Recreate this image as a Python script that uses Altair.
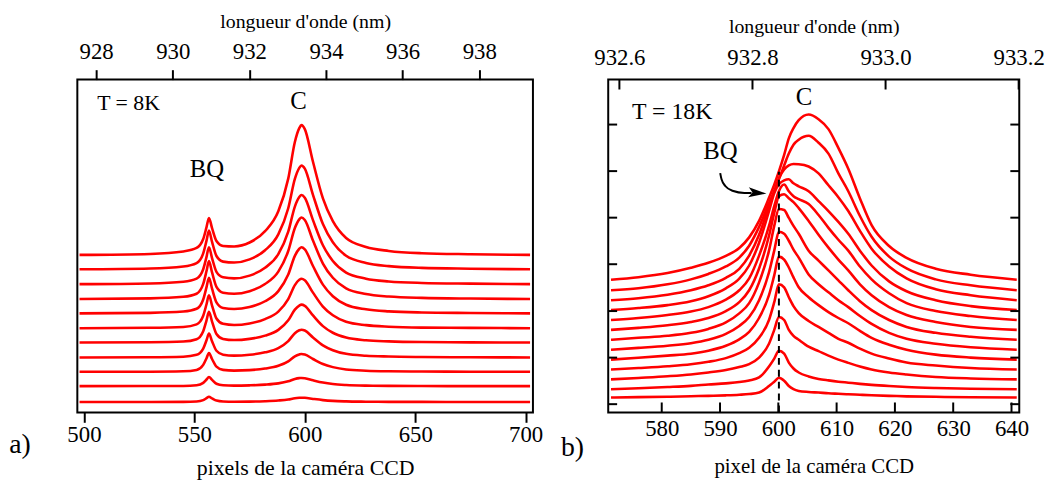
import altair as alt
import pandas as pd

FONT = "Liberation Serif"
RED = "#ff0000"

# ---------------- panel a (T = 8K) ----------------
A_PIX = [498, 530, 545, 551, 554, 555.5, 556.6, 558, 560, 563, 568, 575, 582, 588,
         592.5, 595.5, 597.5, 598.5, 600, 603.7, 608.2, 612.7, 618.7, 627.7, 638, 653, 675, 702]
A_OFFSETS = [159, 144.5, 129.5, 114.5, 100, 85, 70.5, 55.5, 41, 26.5, 10.5]
A01 = [0, 1, 3.5, 7, 16, 28, 37.3, 27, 14, 9, 8.5, 12.5, 24, 44, 77, 114, 128, 131, 127, 94, 57, 34, 17, 8, 4, 1.7, 0.7, 0]
A02 = [0, 0.8, 2.8, 6.2, 16, 28.9, 39, 27.6, 13.4, 7.7, 6.8, 10, 19.2, 35.2, 61.6, 91.2, 102.4, 104.8, 101.6, 75.2, 45.6, 27.2, 13.6, 6.4, 3.2, 1.4, 0.6, 0]
A03 = [0, 0.7, 2.4, 5.5, 15, 27.5, 37.3, 26.3, 12.4, 6.9, 5.8, 8.6, 16.5, 30.2, 52.9, 78.3, 87.9, 90, 87.2, 64.6, 39.2, 23.4, 11.7, 5.5, 2.7, 1.2, 0.5, 0]
A04 = [0, 0.6, 2.2, 5.3, 15.2, 28.2, 38.3, 26.8, 12.3, 6.4, 5.3, 7.9, 15.1, 27.6, 48.4, 71.6, 80.4, 82.3, 79.8, 59, 35.8, 21.4, 10.7, 5, 2.5, 1.1, 0.4, 0]
A05 = [0, 0.5, 1.8, 4.6, 14, 26.4, 36, 24.9, 11.1, 5.4, 4.3, 6.4, 12.2, 22.4, 39.2, 58, 65.2, 66.7, 64.6, 47.8, 29, 17.3, 8.7, 4.1, 2, 0.9, 0.4, 0]
A06 = [0, 0.4, 1.3, 3.9, 12.6, 24.2, 33.3, 22.9, 9.8, 4.4, 3.2, 4.8, 9.2, 16.8, 29.4, 43.5, 48.9, 50, 48.5, 35.9, 21.8, 13, 6.5, 3.1, 1.5, 0.6, 0.3, 0]
A07 = [0, 0.3, 1, 3.4, 11.5, 22.5, 31, 21.2, 8.7, 3.7, 2.5, 3.7, 7, 12.8, 22.5, 33.3, 37.4, 38.3, 37.1, 27.4, 16.6, 9.9, 5, 2.3, 1.2, 0.5, 0.2, 0]
A08 = [0, 0.2, 0.7, 2.6, 8.9, 17.4, 24, 16.4, 6.7, 2.7, 1.8, 2.7, 5.1, 9.4, 16.5, 24.4, 27.4, 28, 27.2, 20.1, 12.2, 7.3, 3.6, 1.7, 0.9, 0.4, 0.1, 0]
A09 = [0, 0.1, 0.5, 1.9, 7, 13.7, 19, 12.9, 5.2, 1.9, 1.2, 1.7, 3.3, 6, 10.5, 15.6, 17.5, 18, 17.4, 12.9, 7.8, 4.7, 2.3, 1.1, 0.5, 0.2, 0.1, 0]
A10 = [0, 0.1, 0.2, 0.9, 3.3, 6.7, 9.3, 6.3, 2.4, 0.9, 0.5, 0.8, 1.5, 2.8, 4.9, 7.2, 8.1, 8.3, 8, 5.9, 3.6, 2.1, 1.1, 0.5, 0.3, 0.1, 0, 0]
A11 = [0, 0, 0.1, 0.5, 1.9, 3.8, 5.3, 3.6, 1.4, 0.5, 0.3, 0.4, 0.8, 1.5, 2.5, 3.8, 4.2, 4.3, 4.2, 3.1, 1.9, 1.1, 0.6, 0.3, 0.1, 0.1, 0, 0]
A_CURVES = [A01, A02, A03, A04, A05, A06, A07, A08, A09, A10, A11]
A_BOTTOM_TICKS = [500, 550, 600, 650, 700]
A_TOP_TICKS = [928, 930, 932, 934, 936, 938]

# ---------------- panel b (T = 18K) ----------------
B_PIX = [571.3, 576, 581, 585, 588, 591, 593.3, 595, 596.7, 598.4, 599.3, 600.1, 601, 601.8,
         602.6, 603.5, 605.2, 606.9, 608.6, 610.3, 612, 614, 616, 619, 622, 627, 633, 640.9]
B_OFFSETS = [134, 123.3, 113.3, 103.3, 93.3, 83.3, 73.3, 63.3, 53.3, 43.3, 33.3, 23.3, 15]
B01 = [0, 2.5, 6.7, 12, 17, 24, 32, 42.7, 59.3, 82.7, 96, 109.3, 126, 142.7, 153, 161, 166.7, 162, 152, 133, 112, 82, 55, 34, 22, 11, 5, 0]
B02 = [0, 2, 6, 11, 16.5, 24, 33, 45, 64, 88, 100, 112, 126, 138, 147, 152, 156, 149, 138, 118, 100, 75, 54, 34, 22, 11, 5, 0]
B03 = [0, 2, 5.5, 10, 15, 22.5, 31.7, 45, 66, 95, 110, 123, 132, 136, 137.5, 137.3, 135, 128, 116, 104, 90, 70, 52, 34, 22, 11, 5, 0]
B04 = [0, 2, 5, 9, 14, 22, 31.7, 45, 68, 100, 118, 127, 131, 132, 128, 125, 120, 110, 100, 89, 77, 60, 45, 29, 19, 10, 4, 0]
B05 = [0, 2, 5, 8.5, 13, 20.5, 30, 42, 65, 95, 115, 130, 136.7, 130, 125, 122, 117, 106, 93, 81, 70, 54, 41, 27, 17, 9, 4, 0]
B06 = [0, 2, 4.7, 8, 12, 19, 28, 40, 62, 95, 118, 135, 137, 133, 129, 123, 110, 96, 83, 71, 60, 46, 35, 23, 15, 8, 3, 0]
B07 = [0, 2, 4, 7, 11, 17.5, 26.7, 37, 58, 90, 115, 132, 131, 123, 115, 107, 90, 80, 70, 60, 50, 39, 30, 20, 13, 7, 3, 0]
B08 = [0, 1.8, 4, 6.5, 10, 16, 24, 33, 50, 78, 100, 119, 117, 110, 101, 93, 76, 66, 58, 50, 43, 34, 26, 17, 11, 6, 2.5, 0]
B09 = [0, 1.8, 4, 6, 9, 14, 20.5, 28, 42, 65, 85, 104, 101, 93, 83, 73, 63, 55, 48, 42, 36.7, 29, 22, 15, 10, 5, 2, 0]
B10 = [0, 1.5, 3.3, 5.3, 7.8, 11.5, 16.5, 22, 32, 50, 68, 86, 83, 73, 64, 57, 49, 43, 37, 31, 27, 21, 16, 11, 7, 4, 1.5, 0]
B11 = [0, 1.5, 3.2, 5, 7, 9.5, 12.5, 15.5, 22, 36, 50, 63, 60, 50, 44, 40, 33, 28.5, 24, 20, 16.7, 13, 10, 7, 5, 2.5, 1, 0]
B12 = [0, 1, 2.3, 3.5, 4.8, 6, 7.3, 9, 12, 23, 31, 39, 36, 27, 21, 17, 13, 10.5, 9, 7.7, 6.7, 5.5, 4.5, 3.3, 2.3, 1.3, 0.6, 0]
B13 = [0, 0.4, 0.8, 1.3, 1.7, 2.2, 2.8, 3.5, 5, 11.6, 16, 20, 17, 11.7, 8.5, 6.7, 5.6, 5, 4.3, 3.8, 3.3, 2.8, 2.3, 1.7, 1.2, 0.7, 0.3, 0]
B_CURVES = [B01, B02, B03, B04, B05, B06, B07, B08, B09, B10, B11, B12, B13]
B_BOTTOM_TICKS = [580, 590, 600, 610, 620, 630, 640]
B_TOP_TICKS = [932.6, 932.8, 933.0, 933.2]
B_Y_TICKS = [8.3, 55.3, 102.3, 149.6, 196.6, 243.6, 290.6]
B_DASH_X = [600.1, 600.1]
B_DASH_Y = [0, 243]
ARROW_X = [590.03, 590.26, 590.94, 592.13, 594.17, 595.4]
ARROW_Y = [241.6, 235.3, 228.3, 223.8, 221.6, 221.6]

# annotations (text, x, y, size, align)
A_TEXT = [("T = 8K", 506.0, 312, 22, "left"), ("C", 597.2, 314.5, 25, "center"),
          ("BQ", 555.7, 246, 25, "center"), ("a)", 471, -33, 28, "center")]
B_TEXT = [("T = 18K", 574.9, 303.3, 24, "left"), ("C", 604.4, 318.3, 25, "center"),
          ("BQ", 590.05, 264.3, 25, "center"), ("b)", 564.7, -35.7, 28, "center")]

W_A, W_B, H = 460, 415, 336


def curves_frame(pix, offsets, curves):
    rows = []
    for i, (off, vals) in enumerate(zip(offsets, curves)):
        for p, v in zip(pix, vals):
            rows.append({"pix": p, "y": off + v, "curve": i})
    return pd.DataFrame(rows)


def axis_common(**kw):
    base = dict(labelFont=FONT, titleFont=FONT, labelColor="black", titleColor="black",
                titleFontWeight="normal", grid=False, domain=False, labelFlush=False,
                labelOverlap=False, tickColor="black", tickWidth=2)
    base.update(kw)
    return alt.Axis(**base)


def text_layers(rows, xs, ys):
    out = []
    for t, x, y, s, a in rows:
        out.append(alt.Chart(pd.DataFrame({"t": [t], "x": [x], "y": [y]})).mark_text(
            font=FONT, fontSize=s, align=a, baseline="middle", color="black").encode(
            x=alt.X("x:Q", scale=xs, axis=None), y=alt.Y("y:Q", scale=ys, axis=None), text="t:N"))
    return out


# ---------- panel a ----------
df_a = curves_frame(A_PIX, A_OFFSETS, A_CURVES)
xa = alt.Scale(domain=[497.0, 703.3], nice=False, zero=False)
ya = alt.Scale(domain=[0, H], nice=False, zero=False)

curves_a = alt.Chart(df_a).mark_line(color=RED, strokeWidth=2.6, interpolate="monotone").encode(
    x=alt.X("pix:Q", scale=xa,
            axis=axis_common(values=A_BOTTOM_TICKS, orient="bottom", title="pixels de la caméra CCD",
                             tickSize=10, labelPadding=1, titlePadding=12, labelFontSize=23,
                             titleFontSize=22)),
    y=alt.Y("y:Q", scale=ya,
            axis=axis_common(title="Intensité de PL (arb. units)", labels=False, ticks=False,
                             titlePadding=42, titleFontSize=22)),
    detail="curve:N",
)

top_a = alt.Chart(pd.DataFrame({"wl": A_TOP_TICKS})).mark_point(opacity=0).encode(
    x=alt.X("wl:Q", scale=alt.Scale(domain=[927.51, 939.40], nice=False, zero=False),
            axis=axis_common(values=A_TOP_TICKS, orient="top", title="longueur d'onde (nm)",
                             tickSize=10, labelPadding=6, titlePadding=10, labelFontSize=23,
                             titleFontSize=20, format="d")),
    y=alt.value(0),
)

panel_a = alt.layer(curves_a, *text_layers(A_TEXT, xa, ya), top_a).resolve_scale(
    x="independent").properties(width=W_A, height=H)

# ---------- panel b ----------
df_b = curves_frame(B_PIX, B_OFFSETS, B_CURVES)
xb = alt.Scale(domain=[570.82, 641.33], nice=False, zero=False)
yb = alt.Scale(domain=[0, H], nice=False, zero=False)

curves_b = alt.Chart(df_b).mark_line(color=RED, strokeWidth=2.6, interpolate="monotone").encode(
    x=alt.X("pix:Q", scale=xb,
            axis=axis_common(values=B_BOTTOM_TICKS, orient="bottom", title="pixel de la caméra CCD",
                             ticks=False, tickSize=0, labelPadding=5, titlePadding=16,
                             labelFontSize=23, titleFontSize=21)),
    y=alt.Y("y:Q", scale=yb, axis=None),
    detail="curve:N",
)

dash_b = alt.Chart(pd.DataFrame({"x": B_DASH_X, "y": B_DASH_Y})).mark_line(
    color="black", strokeWidth=2, strokeDash=[7, 5]).encode(
    x=alt.X("x:Q", scale=xb, axis=None), y=alt.Y("y:Q", scale=yb, axis=None))

arrow_df = pd.DataFrame({"x": ARROW_X, "y": ARROW_Y})
arrow_line = alt.Chart(arrow_df).mark_line(color="black", strokeWidth=2, interpolate="monotone").encode(
    x=alt.X("x:Q", scale=xb, axis=None), y=alt.Y("y:Q", scale=yb, axis=None))
arrow_head = alt.Chart(arrow_df.tail(1)).mark_point(
    shape="M -1 -0.55 L 1 0 L -1 0.55 L -0.55 0 Z", filled=True, color="black", opacity=1,
    size=330, angle=4, xOffset=6).encode(
    x=alt.X("x:Q", scale=xb, axis=None), y=alt.Y("y:Q", scale=yb, axis=None))

ticks_y_df = pd.DataFrame({"v": B_Y_TICKS})
left_ticks = alt.Chart(ticks_y_df).mark_rule(color="black", strokeWidth=2).encode(
    y=alt.Y("v:Q", scale=yb, axis=None), x=alt.value(0), x2=alt.value(9))
right_ticks = alt.Chart(ticks_y_df).mark_rule(color="black", strokeWidth=2).encode(
    y=alt.Y("v:Q", scale=yb, axis=None), x=alt.value(W_B - 9), x2=alt.value(W_B))
bottom_ticks = alt.Chart(pd.DataFrame({"p": B_BOTTOM_TICKS})).mark_rule(color="black", strokeWidth=2).encode(
    x=alt.X("p:Q", scale=xb, axis=None), y=alt.value(H), y2=alt.value(H - 10))

top_b = alt.Chart(pd.DataFrame({"wl": B_TOP_TICKS})).mark_rule(color="black", strokeWidth=2).encode(
    x=alt.X("wl:Q", scale=alt.Scale(domain=[932.5832, 933.2009], nice=False, zero=False),
            axis=axis_common(values=B_TOP_TICKS, orient="top", title="longueur d'onde (nm)",
                             ticks=False, tickSize=0, labelPadding=10, titlePadding=11,
                             labelFontSize=23, titleFontSize=20, format=".1f")),
    y=alt.value(0), y2=alt.value(10),
)

panel_b = alt.layer(curves_b, dash_b, arrow_line, arrow_head, left_ticks, right_ticks,
                    bottom_ticks, *text_layers(B_TEXT, xb, yb), top_b).resolve_scale(
    x="independent").properties(width=W_B, height=H)

chart = alt.hconcat(panel_a, panel_b, spacing=76, bounds="flush").properties(
    padding={"left": 0, "top": 0, "right": 0, "bottom": 0},
    background="white",
).configure_view(stroke="black", strokeWidth=2)

chart.save("out.html", embed_options={"renderer": "svg", "actions": False})
